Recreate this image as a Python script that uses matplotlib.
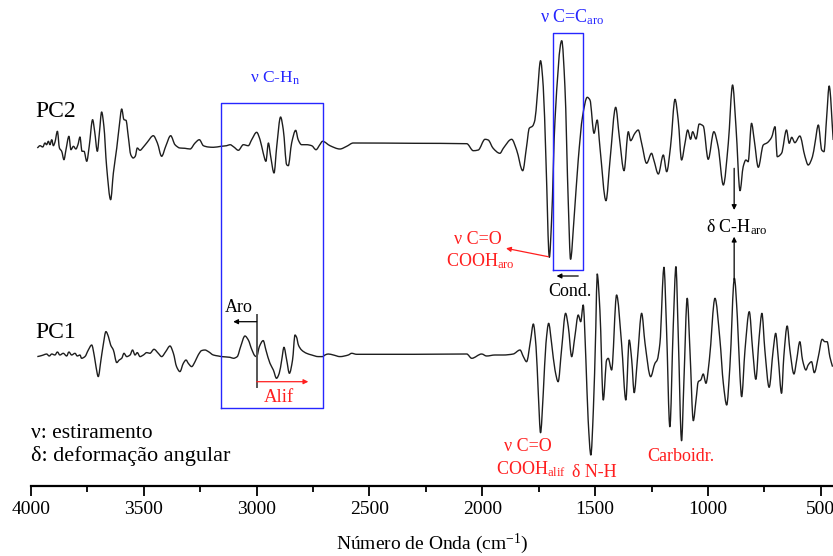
import matplotlib
matplotlib.use("Agg")
import matplotlib.pyplot as plt
from matplotlib.ticker import MultipleLocator
from matplotlib.path import Path
from matplotlib.patches import PathPatch

plt.rcParams['font.family'] = ['Liberation Serif', 'DejaVu Serif']
plt.rcParams['mathtext.fontset'] = 'custom'
plt.rcParams['mathtext.rm'] = 'Liberation Serif'
plt.rcParams['mathtext.it'] = 'Liberation Serif:italic'
plt.rcParams['mathtext.bf'] = 'Liberation Serif:bold'

# ---------------- data ----------------
wn_pc2 = [3972, 3960, 3948, 3938, 3931, 3923, 3916, 3908, 3901, 3894, 3883, 3874, 3864, 3854,
          3845, 3832, 3823, 3812, 3801, 3792, 3783, 3774, 3765, 3753, 3742, 3727, 3718, 3706,
          3697, 3687, 3677, 3665, 3647, 3635, 3620, 3609, 3598, 3588, 3579, 3569, 3558, 3547,
          3538, 3529, 3517, 3502, 3485, 3458, 3440, 3421, 3403, 3381, 3362, 3340, 3318, 3295,
          3273, 3254, 3236, 3214, 3192, 3158, 3133, 3118, 3101, 3081, 3059, 3037, 3022, 3000,
          2985, 2971, 2959, 2948, 2938, 2923, 2911, 2894, 2882, 2867, 2860, 2845, 2827, 2816,
          2801, 2779, 2756, 2737, 2720, 2708, 2675, 2631, 2601, 2572, 2300, 2069, 2040, 2018,
          1988, 1974, 1952, 1922, 1907, 1870, 1848, 1821, 1804, 1792, 1777, 1767, 1757, 1742,
          1730, 1718, 1703, 1693, 1678, 1648, 1634, 1619, 1609, 1594, 1575, 1556, 1535, 1523,
          1505, 1491, 1479, 1452, 1434, 1409, 1393, 1372, 1353, 1343, 1324, 1309, 1294, 1272,
          1250, 1240, 1220, 1198, 1183, 1166, 1146, 1132, 1117, 1102, 1090, 1077, 1068, 1053,
          1039, 1021, 999, 974, 955, 932, 910, 891, 876, 858, 844, 832, 822, 807, 795, 777,
          755, 737, 718, 703, 693, 674, 652, 640, 629, 615, 593, 570, 556, 537, 526, 511, 496,
          486, 474, 463, 445]
pc2 = [-1.0, 1.3, 0, 4.0, 2.3, 5.7, 2.3, 7.3, 1.3, 4.7, 15.7, -1.0, -4.3, -12.7,
       -2.7, 10.7, -2.7, 0.7, -2.0, 2.3, 10.0, -4.3, -4.3, -14.3, 0.7, 27.3, 15.7, -4.3,
       14.0, 35.0, 20.7, -19.3, -52.7, -26.0, -1.0, 20.7, 38.0, 27.3, 26.7, 10.7, -7.7, -11.0,
       -9.3, -1.0, -3.3, 0, 4.7, 11.3, 4.0, -9.3, 0.7, 11.3, 2.3, -1.0, -1.3, -2.0,
       4.0, 7.3, 1.3, 0, -0.3, 0.7, 1.3, 2.3, 0, -3.3, 2.3, 1.3, 7.3, 14.7,
       7.3, -6.0, -14.3, 4.0, -9.3, -26.0, 0.7, 30.0, 17.3, -17.7, -18.7, 4.0, 16.7, 7.3,
       2.3, 2.3, 1.3, -2.7, 2.3, 5.7, 1.3, -2.0, 0.7, 4.0, 3.7, 3.3, -3.7, -3.0,
       7.7, 7.0, -1.3, -6.3, -1.3, 7.7, -3.0, -23.7, 0.3, 18.7, 21.0, 27.0, 50.3, 86.3,
       60.3, -13.0, -110.3, -73.0, 27.0, 106.3, 60.3, -56.3, -112.3, -73.0, -13.0, 30.3, 49.7, 47.0,
       13.7, 27.0, 0.3, -53.7, -13.0, 39.7, 10.3, -23.7, 15.3, 6.3, 13.7, 17.0, 3.7, -16.3,
       -6.3, -13.0, -27.0, -8.0, -24.7, 0.3, 47.7, 27.0, -13.0, 3.7, 17.0, 7.7, 15.3, 8.0,
       23.0, 21.0, -12.3, 15.3, 0.3, -38.0, 3.7, 62.0, 20.3, -43.7, -19.7, -13.0, -14.7, 23.7, 7.0, -20.3,
       2.0, 4.3, 9.7, 20.3, -9.7, -6.3, 17.0, 3.7, 9.7, 4.3, 11.0, -9.7, -18.0, -9.7, 3.7, 22.0, -3.0,
       -4.7, 30.3, 61.0, 7.0]

wn_pc1 = [3972, 3960, 3945, 3931, 3919, 3908, 3894, 3883, 3872, 3857, 3842, 3832, 3820, 3805,
          3795, 3783, 3776, 3761, 3746, 3731, 3719, 3712, 3702, 3690, 3680, 3668, 3657, 3647,
          3635, 3620, 3609, 3598, 3588, 3576, 3561, 3550, 3539, 3529, 3517, 3502, 3487, 3473,
          3455, 3436, 3421, 3403, 3384, 3369, 3355, 3340, 3325, 3313, 3303, 3288, 3273, 3259,
          3244, 3229, 3214, 3192, 3170, 3155, 3118, 3103, 3086, 3071, 3052, 3037, 3022, 3007,
          3000, 2988, 2971, 2959, 2941, 2926, 2912, 2900, 2889, 2879, 2867, 2855, 2841, 2830,
          2823, 2815, 2801, 2779, 2756, 2727, 2708, 2697, 2683, 2660, 2631, 2594, 2579, 2557,
          2300, 2069, 2047, 2003, 1981, 1944, 1907, 1863, 1833, 1818, 1804, 1786, 1774, 1762,
          1752, 1742, 1730, 1718, 1706, 1693, 1678, 1664, 1649, 1631, 1619, 1604, 1590, 1575,
          1564, 1553, 1541, 1531, 1519, 1508, 1497, 1491, 1479, 1464, 1449, 1442, 1427, 1405,
          1383, 1364, 1349, 1338, 1327, 1313, 1294, 1279, 1254, 1235, 1225, 1213, 1195, 1184,
          1169, 1154, 1142, 1132, 1117, 1107, 1092, 1080, 1065, 1053, 1043, 1032, 1021, 1009,
          994, 969, 947, 932, 917, 903, 883, 870, 858, 851, 836, 817, 802, 788, 773, 761,
          748, 729, 711, 700, 689, 674, 664, 649, 637, 619, 607, 593, 581, 566, 556, 541,
          529, 511, 494, 482, 472, 460, 448]
pc1 = [-2.3, -1.7, -0.7, 0.3, -1.7, 0.3, -0.7, 2.3, -0.7, 1.0, -1.7, 2.3, -0.7, 1.0,
       -1.7, -0.7, -4.0, -2.3, 4.3, 9.3, -2.3, -12.3, -22.3, -5.7, 9.3, 22.7, 17.7, 9.3,
       4.3, -8.3, -5.7, -4.0, 1.0, -2.3, -0.7, 4.3, -0.7, 1.7, -2.3, -0.7, 1.7, 1.0,
       5.0, 1.0, -2.3, 2.7, 8.3, 1.0, -12.3, -17.3, -9.0, -5.7, -9.0, -12.3, -7.3, -0.7,
       3.7, 4.3, 2.7, -0.7, -1.7, -2.3, -3.0, -4.0, -2.3, 7.7, 18.3, 14.3, 5.0, -1.7,
       -2.3, 7.7, 13.7, 4.3, -9.0, -15.7, -24.0, -19.0, -5.7, 7.0, -5.7, -19.0, -5.7, 19.3,
       17.0, 9.3, 4.3, 1.0, -0.7, -2.3, -2.3, -0.7, 0.3, -0.7, -2.3, -0.7, 1.0, 0,
       0, 0.3, -4.0, 0.3, -1.7, -0.7, -0.7, 0.3, 4.3, -2.4, -7.4, 14.3, 30.3, 7.6,
       -39.0, -78.4, -39.0, 11.0, 31.0, 11.0, -15.7, -27.4, 4.3, 41.0, 27.6, -2.4, 17.6, 39.3,
       32.6, 49.3, -5.7, -65.7, -100.7, -55.7, 27.6, 80.3, 44.3, -45.7, -5.7, -4.0, -15.7, 59.3,
       11.0, -45.7, 14.3, -5.7, -38.4, -5.7, 41.0, 11.0, -22.4, -9.0, -5.7, 11.0, 87.0, 27.6,
       -72.4, 27.6, 87.6, 21.0, -86.4, -29.0, 56.0, 4.3, -66.4, -45.7, -27.4, -25.7, -19.7, -29.0,
       -5.7, 56.0, 14.3, -29.0, -50.7, -12.4, 76.0, 37.6, -22.4, -42.4, 4.3, 42.6, 4.3, -25.0, 17.6, 41.0,
       4.3, -33.0, 4.3, 21.0, -2.4, -39.0, -2.4, 28.3, 4.3, -19.7, -5.7, 12.6, -5.7, -15.7, -10.7, -7.4,
       -18.4, -2.4, 15.0, 12.6, 12.6, -2.4, -12.4]

series_labels = ["PC2", "PC1"]
xticks = [4000, 3500, 3000, 2500, 2000, 1500, 1000, 500]

# ---------------- layout / style ----------------
PC2_OFFSET = 339.0
PC1_OFFSET = 131.7
BLUE = '#2626ff'
RED = '#ff1f1f'
LINE = '#1e1e1e'


def smooth_line(ax, xs, ys, **kw):
    """Draw a smooth (monotone cubic) line through the given points."""
    n = len(xs)
    h = [xs[i + 1] - xs[i] for i in range(n - 1)]
    d = [(ys[i + 1] - ys[i]) / h[i] for i in range(n - 1)]
    m = [0.0] * n
    m[0], m[-1] = d[0], d[-1]
    for k in range(1, n - 1):
        if d[k - 1] * d[k] <= 0:
            m[k] = 0.0
        else:
            w1 = 2 * h[k] + h[k - 1]
            w2 = h[k] + 2 * h[k - 1]
            m[k] = (w1 + w2) / (w1 / d[k - 1] + w2 / d[k])
    verts = [(xs[0], ys[0])]
    codes = [Path.MOVETO]
    for i in range(n - 1):
        dx = h[i] / 3.0
        verts += [(xs[i] + dx, ys[i] + m[i] * dx),
                  (xs[i + 1] - dx, ys[i + 1] - m[i + 1] * dx),
                  (xs[i + 1], ys[i + 1])]
        codes += [Path.CURVE4] * 3
    ax.add_patch(PathPatch(Path(verts, codes), fill=False, **kw))


fig = plt.figure(figsize=(8.33, 5.56), dpi=100)
ax = fig.add_axes([31/833, 70/556, 802/833, 486/556])
ax.set_xlim(4000, 446)
ax.set_ylim(0, 486)

smooth_line(ax, wn_pc2, [v + PC2_OFFSET for v in pc2], edgecolor=LINE, lw=1.0, joinstyle='round')
smooth_line(ax, wn_pc1, [v + PC1_OFFSET for v in pc1], edgecolor=LINE, lw=1.0, joinstyle='round')

for s in ['left', 'right', 'top']:
    ax.spines[s].set_visible(False)
ax.spines['bottom'].set_linewidth(1.6)
ax.set_yticks([])
ax.xaxis.set_major_locator(MultipleLocator(500))
ax.xaxis.set_minor_locator(MultipleLocator(250))
ax.set_xticks(xticks)
ax.set_xticklabels([str(t) for t in xticks])
ax.tick_params(axis='x', which='major', direction='out', length=7, width=1.3, pad=4, labelsize=14)
ax.tick_params(axis='x', which='minor', direction='out', length=4, width=1.3)
ax.set_xlabel(r'Número de Onda (cm$^{\mathregular{-1}}$)', fontsize=14, labelpad=10)

# labels for the traces
ax.text(3982, 369, series_labels[0], fontsize=17, ha='left', va='baseline')
ax.text(3982, 148, series_labels[1], fontsize=17, ha='left', va='baseline')

# blue boxes
ax.plot([3158, 2707, 2707, 3158, 3158], [78.3, 78.3, 382.7, 382.7, 78.3], color=BLUE, lw=1.0)
ax.plot([1686, 1553, 1553, 1686, 1686], [216, 216, 452.7, 452.7, 216], color=BLUE, lw=1.0)
ax.text(3030, 403, r'ν C-H$_{\mathregular{n}}$', color=BLUE, fontsize=12.5, ha='left', va='baseline')
ax.text(1745, 464, r'ν C=C$_{\mathregular{aro}}$', color=BLUE, fontsize=13, ha='left', va='baseline')

# red carbonyl annotation (top)
ax.text(2019, 242, 'ν C=O', color=RED, fontsize=13, ha='center', va='baseline')
ax.text(2161, 220, r'COOH$_{\mathregular{aro}}$', color=RED, fontsize=13, ha='left', va='baseline')
ax.annotate('', xy=(1895, 237.7), xytext=(1708, 229.3),
            arrowprops=dict(arrowstyle='-|>', color=RED, lw=0.9, mutation_scale=7, shrinkA=0, shrinkB=0))

# Cond.
ax.text(1613, 190, 'Cond.', color='black', fontsize=13, ha='center', va='baseline')
ax.annotate('', xy=(1671, 210), xytext=(1575, 210),
            arrowprops=dict(arrowstyle='-|>', color='black', lw=0.9, mutation_scale=7, shrinkA=0, shrinkB=0))

# delta C-H aro
ax.text(1009, 254, r'δ C-H$_{\mathregular{aro}}$', color='black', fontsize=13, ha='left', va='baseline')
ax.annotate('', xy=(884, 276), xytext=(884, 317.7),
            arrowprops=dict(arrowstyle='-|>', color='black', lw=0.9, mutation_scale=7, shrinkA=0, shrinkB=0))
ax.annotate('', xy=(884, 249.3), xytext=(884, 206),
            arrowprops=dict(arrowstyle='-|>', color='black', lw=0.9, mutation_scale=7, shrinkA=0, shrinkB=0))

# Aro / Alif
ax.plot([3000, 3000], [99.3, 171], color='#555555', lw=1.4)
ax.text(3140, 173.5, 'Aro', color='black', fontsize=13, ha='left', va='baseline')
ax.annotate('', xy=(3104, 164.3), xytext=(3000, 164.3),
            arrowprops=dict(arrowstyle='-|>', color='black', lw=0.9, mutation_scale=7, shrinkA=0, shrinkB=0))
ax.annotate('', xy=(2771, 104.3), xytext=(3000, 104.3),
            arrowprops=dict(arrowstyle='-|>', color=RED, lw=0.9, mutation_scale=7, shrinkA=0, shrinkB=0))
ax.text(2968, 84, 'Alif', color=RED, fontsize=13.5, ha='left', va='baseline')

# bottom red annotations
ax.text(1798, 35, 'ν C=O', color=RED, fontsize=13, ha='center', va='baseline')
ax.text(1940, 12, r'COOH$_{\mathregular{alif}}$', color=RED, fontsize=13, ha='left', va='baseline')
ax.text(1604, 9, 'δ N-H', color=RED, fontsize=13, ha='left', va='baseline')
ax.text(1267, 25, 'Carboidr.', color=RED, fontsize=13, ha='left', va='baseline')

# legend of symbols
ax.text(4000, 48, 'ν: estiramento', color='black', fontsize=15.5, ha='left', va='baseline')
ax.text(4000, 24.5, 'δ: deformação angular', color='black', fontsize=16, ha='left', va='baseline')

fig.savefig('out.png', dpi=100)
